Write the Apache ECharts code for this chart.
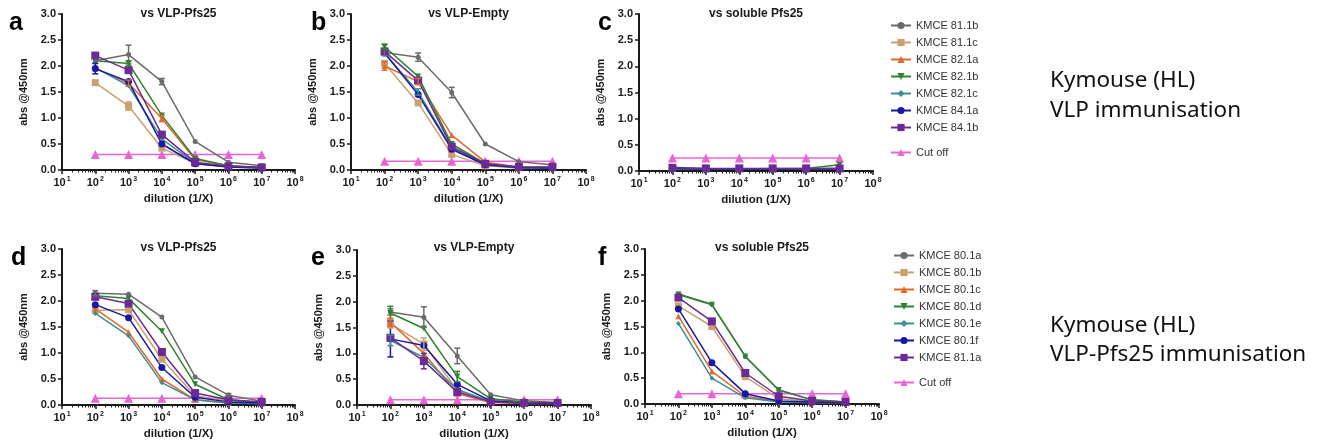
<!DOCTYPE html>
<html><head><meta charset="utf-8">
<script src="https://cdn.jsdelivr.net/npm/echarts@6/dist/echarts.min.js"></script>
<style>html,body{margin:0;padding:0;background:#fff}#c{width:1322px;height:446px}</style>
</head><body><div id="c"></div>
<script>
// ---------------- data ----------------
const dilutions = [1e2, 1e3, 1e4, 1e5, 1e6, 1e7];
const xTickValues = [1e1, 1e2, 1e3, 1e4, 1e5, 1e6, 1e7, 1e8];
const yTickValues = [0, 0.5, 1.0, 1.5, 2.0, 2.5, 3.0];
const panelTitles = ['vs VLP-Pfs25', 'vs VLP-Empty', 'vs soluble Pfs25', 'vs VLP-Pfs25', 'vs VLP-Empty', 'vs soluble Pfs25'];
const panelLetters = ['a', 'b', 'c', 'd', 'e', 'f'];
const clonesTop = ['KMCE 81.1b', 'KMCE 81.1c', 'KMCE 82.1a', 'KMCE 82.1b', 'KMCE 82.1c', 'KMCE 84.1a', 'KMCE 84.1b'];
const clonesBottom = ['KMCE 80.1a', 'KMCE 80.1b', 'KMCE 80.1c', 'KMCE 80.1d', 'KMCE 80.1e', 'KMCE 80.1f', 'KMCE 81.1a'];
const cutOffName = 'Cut off';
const cutOffs = [0.30, 0.17, 0.25, 0.13, 0.10, 0.20];
const sideTextTop = ['Kymouse (HL)', 'VLP immunisation'];
const sideTextBottom = ['Kymouse (HL)', 'VLP-Pfs25 immunisation'];

// rows follow clone order, columns follow dilutions
const panelA = [
  [2.10, 2.22, 1.70, 0.55, 0.15, 0.08],
  [1.68, 1.23, 0.42, 0.13, 0.07, 0.05],
  [1.95, 1.67, 0.99, 0.20, 0.08, 0.05],
  [2.10, 2.05, 1.05, 0.22, 0.08, 0.05],
  [1.97, 1.62, 0.60, 0.13, 0.06, 0.04],
  [1.95, 1.70, 0.50, 0.12, 0.06, 0.04],
  [2.20, 1.92, 0.68, 0.15, 0.07, 0.05]
];
const panelB = [
  [2.26, 2.17, 1.49, 0.50, 0.16, 0.10],
  [2.05, 1.29, 0.30, 0.08, 0.04, 0.04],
  [2.00, 1.70, 0.67, 0.15, 0.06, 0.05],
  [2.37, 1.80, 0.50, 0.12, 0.05, 0.04],
  [2.25, 1.50, 0.42, 0.10, 0.04, 0.04],
  [2.25, 1.45, 0.40, 0.10, 0.05, 0.04],
  [2.28, 1.72, 0.45, 0.12, 0.06, 0.06]
];
const panelC = [
  [0.07, 0.05, 0.04, 0.05, 0.05, 0.05],
  [0.05, 0.04, 0.04, 0.04, 0.04, 0.04],
  [0.04, 0.04, 0.04, 0.04, 0.04, 0.05],
  [0.05, 0.04, 0.04, 0.04, 0.05, 0.12],
  [0.04, 0.04, 0.04, 0.04, 0.04, 0.04],
  [0.05, 0.04, 0.04, 0.04, 0.04, 0.04],
  [0.06, 0.05, 0.05, 0.05, 0.05, 0.05]
];
const panelD = [
  [2.15, 2.13, 1.69, 0.54, 0.19, 0.07],
  [1.82, 1.83, 0.88, 0.18, 0.08, 0.05],
  [1.85, 1.40, 0.50, 0.10, 0.04, 0.03],
  [2.10, 2.05, 1.42, 0.40, 0.10, 0.05],
  [1.76, 1.33, 0.43, 0.10, 0.04, 0.03],
  [1.93, 1.68, 0.72, 0.15, 0.06, 0.04],
  [2.08, 1.95, 1.02, 0.23, 0.10, 0.06]
];
const panelE = [
  [1.80, 1.70, 0.95, 0.20, 0.08, 0.05],
  [1.57, 1.18, 0.28, 0.07, 0.04, 0.04],
  [1.60, 1.00, 0.22, 0.05, 0.03, 0.03],
  [1.78, 1.48, 0.55, 0.12, 0.06, 0.04],
  [1.25, 0.92, 0.30, 0.07, 0.04, 0.03],
  [1.28, 1.15, 0.40, 0.08, 0.04, 0.03],
  [1.30, 0.85, 0.25, 0.06, 0.04, 0.04]
];
const panelF = [
  [2.13, 1.93, 0.92, 0.27, 0.08, 0.04],
  [1.90, 1.50, 0.53, 0.10, 0.05, 0.04],
  [1.70, 0.63, 0.15, 0.05, 0.03, 0.03],
  [2.12, 1.92, 0.92, 0.27, 0.08, 0.04],
  [1.56, 0.50, 0.12, 0.04, 0.03, 0.03],
  [1.84, 0.80, 0.20, 0.06, 0.04, 0.03],
  [2.06, 1.60, 0.60, 0.15, 0.06, 0.04]
];
// error bars: [clone index, dilution index, +/- value]
const errA = [[0, 0, 0.05], [0, 1, 0.18], [0, 2, 0.06], [1, 1, 0.08], [2, 1, 0.06], [2, 2, 0.06], [3, 1, 0.05], [5, 0, 0.10], [6, 0, 0.05]];
const errB = [[0, 0, 0.06], [0, 1, 0.08], [0, 2, 0.10], [3, 0, 0.05], [2, 0, 0.08], [2, 1, 0.06], [4, 1, 0.06]];
const errC = [];
const errD = [[0, 0, 0.05], [6, 2, 0.06], [0, 4, 0.03]];
const errE = [[0, 0, 0.06], [0, 1, 0.20], [0, 2, 0.15], [3, 0, 0.13], [3, 2, 0.10], [5, 0, 0.35], [6, 1, 0.15], [1, 1, 0.12], [1, 0, 0.08], [2, 0, 0.08], [4, 0, 0.10]];
const errF = [];

// ---------------- styles / layout ----------------
const panels = [panelA, panelB, panelC, panelD, panelE, panelF];
const panelErrs = [errA, errB, errC, errD, errE, errF];
const gridRects = [
  {left: 62, top: 14, width: 233, height: 156},
  {left: 351, top: 14, width: 235, height: 156},
  {left: 639, top: 14, width: 234, height: 157},
  {left: 62, top: 249, width: 233, height: 156},
  {left: 357, top: 250, width: 234, height: 155},
  {left: 645, top: 249, width: 234, height: 155}
];
const styles = [
  {color: '#6b6b6b', symbol: 'circle', size: 5, rotate: 0},
  {color: '#c9a170', symbol: 'rect', size: 7, rotate: 0},
  {color: '#e2692a', symbol: 'triangle', size: 6, rotate: 0},
  {color: '#2c852c', symbol: 'triangle', size: 6, rotate: 180},
  {color: '#3d8e95', symbol: 'diamond', size: 5, rotate: 0},
  {color: '#1818a6', symbol: 'circle', size: 7, rotate: 0},
  {color: '#6b2a94', symbol: 'rect', size: 8, rotate: 0}
];
const cutStyle = {color: '#e865d6', symbol: 'triangle', size: 9};
const FONT = '"Liberation Sans", Arial, sans-serif';
const AX = '#1a1a1a';

const minorTicks = [];
for (let n = 1; n < 8; n++) for (let k = 2; k <= 9; k++) minorTicks.push(k * Math.pow(10, n));

const grid = [], xAxis = [], yAxis = [], series = [], graphic = [];
gridRects.forEach((g, p) => {
  grid.push(Object.assign({containLabel: false}, g));
  xAxis.push({
    type: 'log', logBase: 10, gridIndex: p, min: 10, max: 1e8, position: 'bottom',
    name: 'dilution (1/X)', nameLocation: 'middle', nameGap: 23,
    nameTextStyle: {fontFamily: FONT, fontWeight: 'bold', fontSize: 11.5, color: AX},
    axisLine: {show: true, onZero: false, lineStyle: {color: AX, width: 2}},
    axisTick: {show: true, length: 4, customValues: xTickValues, lineStyle: {color: AX, width: 1.5}},
    axisLabel: {
      customValues: xTickValues, margin: 6, color: AX,
      formatter: v => '{b|10}{s|' + Math.round(Math.log10(v)) + '}',
      rich: {
        b: {fontFamily: FONT, fontWeight: 'bold', fontSize: 11, color: AX, verticalAlign: 'bottom'},
        s: {fontFamily: FONT, fontWeight: 'bold', fontSize: 7, color: AX, verticalAlign: 'bottom', padding: [0, 0, 5, 1]}
      }
    },
    splitLine: {show: false}
  });
  xAxis.push({
    type: 'log', logBase: 10, gridIndex: p, min: 10, max: 1e8, position: 'bottom',
    axisLine: {show: false, onZero: false},
    axisTick: {show: true, length: 2.5, customValues: minorTicks, lineStyle: {color: AX, width: 1}},
    axisLabel: {show: false},
    splitLine: {show: false}
  });
  yAxis.push({
    type: 'value', gridIndex: p, min: 0, max: 3, interval: 0.5, position: 'left',
    name: 'abs @450nm', nameLocation: 'middle', nameGap: 33,
    nameTextStyle: {fontFamily: FONT, fontWeight: 'bold', fontSize: 11, color: AX},
    axisLine: {show: true, onZero: false, lineStyle: {color: AX, width: 2}},
    axisTick: {show: true, length: 4, lineStyle: {color: AX, width: 1.5}},
    axisLabel: {fontFamily: FONT, fontWeight: 'bold', fontSize: 11, color: AX, margin: 6,
      customValues: yTickValues, formatter: v => v.toFixed(1)},
    splitLine: {show: false}
  });
  const names = p < 3 ? clonesTop : clonesBottom;
  panels[p].forEach((vals, s) => {
    const st = styles[s];
    series.push({
      type: 'line', name: names[s], xAxisIndex: 2 * p, yAxisIndex: p,
      data: dilutions.map((d, i) => [d, vals[i]]),
      symbol: st.symbol, symbolSize: st.size, symbolRotate: st.rotate,
      lineStyle: {color: st.color, width: 1.5}, itemStyle: {color: st.color},
      z: 3, animation: false
    });
  });
  series.push({
    type: 'line', name: cutOffName, xAxisIndex: 2 * p, yAxisIndex: p,
    data: dilutions.map(d => [d, cutOffs[p]]),
    symbol: cutStyle.symbol, symbolSize: cutStyle.size,
    lineStyle: {color: cutStyle.color, width: 1.5}, itemStyle: {color: cutStyle.color},
    z: 2, animation: false
  });
  const errs = panelErrs[p];
  if (errs.length) {
    series.push({
      type: 'custom', xAxisIndex: 2 * p, yAxisIndex: p, silent: true, z: 4, animation: false,
      data: errs.map(e => [dilutions[e[1]], panels[p][e[0]][e[1]], e[2], e[0]]),
      encode: {x: 0, y: 1},
      renderItem: (params, api) => {
        const x = api.value(0), y = api.value(1), e = api.value(2);
        const col = styles[api.value(3)].color;
        const hi = api.coord([x, y + e]), lo = api.coord([x, Math.max(0, y - e)]);
        const w = 3, st = {stroke: col, lineWidth: 1.5};
        return {type: 'group', children: [
          {type: 'line', shape: {x1: hi[0], y1: hi[1], x2: lo[0], y2: lo[1]}, style: st},
          {type: 'line', shape: {x1: hi[0] - w, y1: hi[1], x2: hi[0] + w, y2: hi[1]}, style: st},
          {type: 'line', shape: {x1: lo[0] - w, y1: lo[1], x2: lo[0] + w, y2: lo[1]}, style: st}
        ]};
      }
    });
  }
  // panel title and letter
  graphic.push({type: 'text', x: g.left + g.width / 2, y: p < 3 ? 14 : 248,
    style: {text: panelTitles[p], font: 'bold 12px ' + FONT, fill: AX, align: 'center', verticalAlign: 'middle'}});
  const letterX = [9, 311, 598, 11, 311, 598][p];
  graphic.push({type: 'text', x: letterX, y: p < 3 ? 23 : 258,
    style: {text: panelLetters[p], font: 'bold 25px ' + FONT, fill: '#000', align: 'left', verticalAlign: 'middle'}});
});

graphic.push({type: 'text', x: 1050, y: 66,
  style: {text: sideTextTop.join('\n'), font: '22.5px "Noto Sans", sans-serif', lineHeight: 30, fill: '#111'}});
graphic.push({type: 'text', x: 1050, y: 311,
  style: {text: sideTextBottom.join('\n'), font: '22.5px "Noto Sans", sans-serif', lineHeight: 29, fill: '#111'}});

const legendBase = {orient: 'vertical', itemWidth: 20, itemHeight: 9, itemGap: 6, selectedMode: false,
  textStyle: {fontFamily: FONT, fontSize: 11, color: '#333'}, padding: 0};
const legend = [
  Object.assign({}, legendBase, {data: clonesTop, left: 890, top: 20}),
  Object.assign({}, legendBase, {data: [cutOffName], left: 890, top: 147}),
  Object.assign({}, legendBase, {data: clonesBottom, left: 893, top: 250}),
  Object.assign({}, legendBase, {data: [cutOffName], left: 893, top: 377})
];

const chart = echarts.init(document.getElementById('c'), null, {renderer: 'canvas'});
chart.setOption({animation: false, backgroundColor: '#fff', grid, xAxis, yAxis, series, graphic, legend});
</script></body></html>
